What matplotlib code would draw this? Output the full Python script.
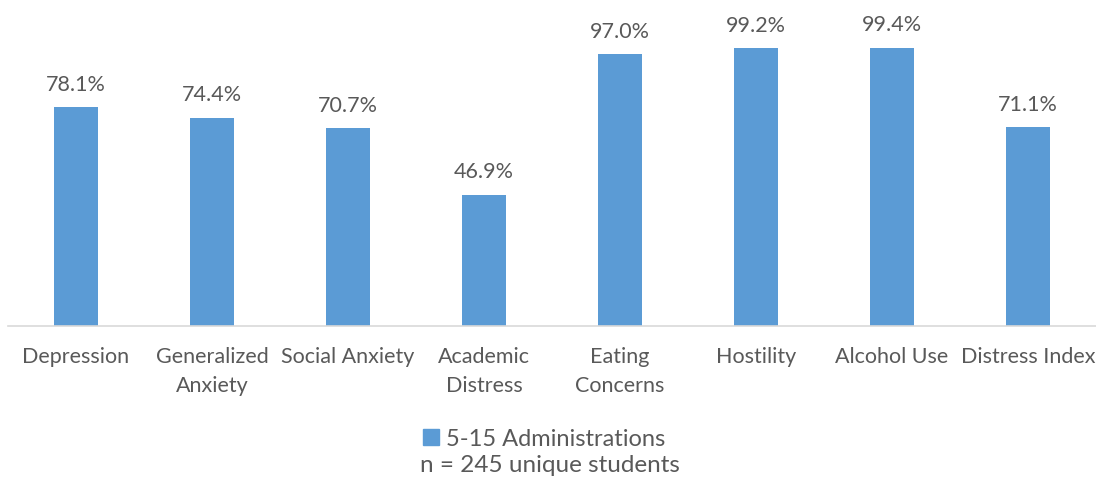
import matplotlib.pyplot as plt
from matplotlib.patches import Patch

# datos del grafico
categorias = ['Depression', 'Generalized\nAnxiety', 'Social Anxiety', 'Academic\nDistress',
              'Eating\nConcerns', 'Hostility', 'Alcohol Use', 'Distress Index']
valores = [78.1, 74.4, 70.7, 46.9, 97.0, 99.2, 99.4, 71.1]
serie = '5-15 Administrations'
nota = 'n = 245 unique students'

azul = '#5B9BD5'
gris_texto = '#595959'

plt.rcParams['font.family'] = ['Lato', 'DejaVu Sans']

fig = plt.figure(figsize=(10.96, 4.79), dpi=100)
ax = fig.add_axes([8 / 1096, 153 / 479, 1088 / 1096, 280 / 479])

x = range(len(categorias))
barras = ax.bar(x, valores, width=0.32, color=azul)

# etiquetas de valor encima de cada barra
for b, v in zip(barras, valores):
    ax.annotate(f'{v:.1f}%', (b.get_x() + b.get_width() / 2, v),
                xytext=(0, 16), textcoords='offset points',
                ha='center', va='center', fontsize=15.5, color=gris_texto)

ax.set_xlim(-0.5, len(categorias) - 0.5)
ax.set_ylim(0, 100)
ax.set_yticks([])
ax.set_xticks(list(x))
ax.set_xticklabels(categorias, fontsize=15.5, color=gris_texto, linespacing=1.6)
ax.tick_params(axis='x', length=0, pad=15)

for lado in ['top', 'right', 'left']:
    ax.spines[lado].set_visible(False)
ax.spines['bottom'].set_color('#D9D9D9')
ax.spines['bottom'].set_linewidth(1.2)

# leyenda y nota inferior
fig.legend(handles=[Patch(color=azul, label=serie)], loc='center',
           bbox_to_anchor=(544 / 1096, 1 - 439 / 479), frameon=False,
           fontsize=17, labelcolor=gris_texto, handlelength=0.65, handleheight=0.65,
           handletextpad=0.3)
fig.text(550 / 1096, 1 - 466 / 479, nota, ha='center', va='center',
         fontsize=17.5, color=gris_texto)

fig.savefig('out.png', dpi=100)
